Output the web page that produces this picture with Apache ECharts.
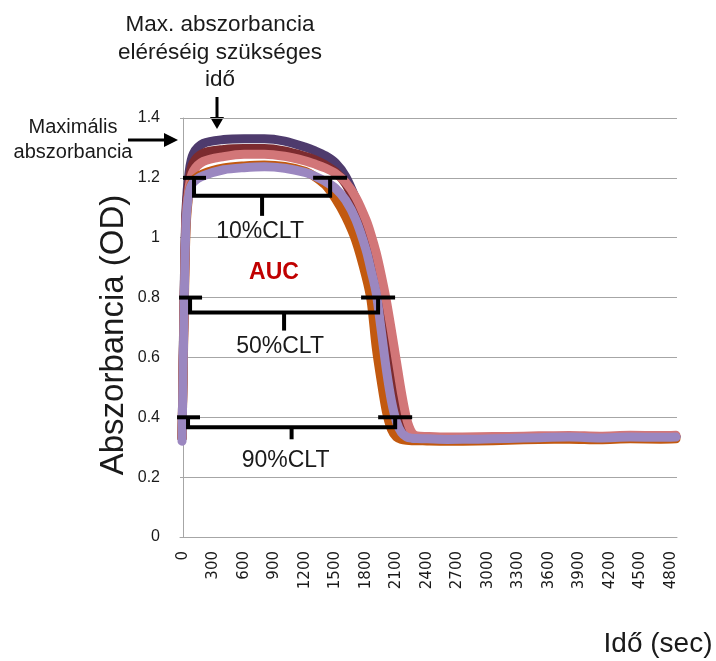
<!DOCTYPE html>
<html>
<head>
<meta charset="utf-8">
<script src="https://cdn.jsdelivr.net/npm/echarts@6/dist/echarts.min.js"></script>
<style>
  html, body { margin: 0; padding: 0; background: #ffffff; }
  #chart { width: 716px; height: 661px; }
</style>
</head>
<body>
<div id="chart"></div>
<script>
// Sampling times (sec) shared by every absorbance curve
const times = [-10, 10, 30, 60, 100, 200, 400, 600, 800, 1000, 1200, 1300, 1400, 1500, 1600,
  1700, 1800, 1850, 1900, 1950, 2000, 2050, 2100, 2150, 2200, 2250, 2300, 2400, 2600, 2900,
  3200, 3500, 3800, 4100, 4400, 4700, 4850];

// Absorbance (OD) of the five clot-lysis curves
const sampleDarkPurple = [0.33, 0.80, 1.10, 1.22, 1.28, 1.315, 1.328, 1.331, 1.331, 1.323, 1.303, 1.29, 1.274, 1.25, 1.205,
  1.13, 1.04, 0.985, 0.915, 0.83, 0.72, 0.59, 0.47, 0.39, 0.35, 0.335, 0.332, 0.331, 0.329, 0.330,
  0.331, 0.333, 0.334, 0.332, 0.335, 0.334, 0.335];
const sampleMaroon = [0.33, 0.78, 1.08, 1.19, 1.25, 1.283, 1.295, 1.298, 1.298, 1.29, 1.272, 1.26, 1.243, 1.22, 1.18,
  1.11, 1.03, 0.975, 0.905, 0.82, 0.72, 0.60, 0.48, 0.40, 0.355, 0.337, 0.333, 0.332, 0.330, 0.331,
  0.332, 0.334, 0.335, 0.333, 0.336, 0.335, 0.336];
const sampleSalmon = [0.33, 0.76, 1.06, 1.17, 1.222, 1.255, 1.271, 1.279, 1.279, 1.272, 1.257, 1.246, 1.233, 1.215, 1.185,
  1.135, 1.06, 1.01, 0.95, 0.875, 0.79, 0.69, 0.585, 0.48, 0.395, 0.35, 0.338, 0.336, 0.334, 0.335,
  0.336, 0.338, 0.339, 0.337, 0.340, 0.339, 0.340];
const sampleOrange = [0.33, 0.72, 1.03, 1.15, 1.19, 1.214, 1.233, 1.240, 1.243, 1.238, 1.222, 1.203, 1.176, 1.13, 1.07,
  0.99, 0.87, 0.79, 0.635, 0.52, 0.42, 0.36, 0.334, 0.326, 0.323, 0.322, 0.322, 0.321, 0.320, 0.321,
  0.323, 0.326, 0.327, 0.325, 0.328, 0.327, 0.328];
const sampleLavender = [0.32, 0.75, 1.05, 1.15, 1.185, 1.207, 1.227, 1.234, 1.237, 1.232, 1.218, 1.205, 1.188, 1.165, 1.125,
  1.06, 0.96, 0.89, 0.815, 0.69, 0.56, 0.455, 0.385, 0.348, 0.334, 0.330, 0.329, 0.328, 0.326, 0.327,
  0.329, 0.332, 0.334, 0.331, 0.334, 0.333, 0.334];

// Clot lysis time brackets: level (OD), start and end time (sec)
const cltLabels = ['10%CLT', '50%CLT', '90%CLT'];
const cltLevels = [1.2, 0.8, 0.4];
const cltStart = [108, 69, 49];
const cltEnd = [1447, 1919, 2087];

// Axis tick labels
const xTickValues = [0, 300, 600, 900, 1200, 1500, 1800, 2100, 2400, 2700, 3000, 3300, 3600, 3900, 4200, 4500, 4800];

const seriesDefs = [
  { name: 'sample A', values: sampleDarkPurple, color: '#4e3b6d' },
  { name: 'sample B', values: sampleMaroon, color: '#7c2b2f' },
  { name: 'sample C', values: sampleSalmon, color: '#d27678' },
  { name: 'sample D', values: sampleOrange, color: '#c2590f' },
  { name: 'sample E', values: sampleLavender, color: '#9b87c0' }
];

const TEXT = '#1a1a1a';
const FONT = '"Liberation Sans", Arial, sans-serif';

const lineSeries = seriesDefs.map(d => ({
  name: d.name,
  type: 'line',
  data: times.map((t, i) => [t, d.values[i]]),
  smooth: 0.3,
  symbol: 'none',
  lineStyle: { width: 9, color: d.color, cap: 'round', join: 'round' },
  z: 2
}));

// bracket drawing offsets in pixels (depth of the bracket, stem length, label placement)
const bracketLayout = [
  { depth: 18, stem: 20, labelDy: 54, labelDx: -2 },
  { depth: 15, stem: 18, labelDy: 49, labelDx: -4 },
  { depth: 10, stem: 12, labelDy: 43, labelDx: -6 }
];

const bracketSeries = {
  type: 'custom',
  z: 5,
  silent: true,
  encode: { x: [0, 1], y: 2 },
  data: cltLevels.map((lv, i) => [cltStart[i], cltEnd[i], lv]),
  renderItem: function (params, api) {
    const i = params.dataIndex;
    const lay = bracketLayout[i];
    const l = api.coord([api.value(0), api.value(2)]);
    const r = api.coord([api.value(1), api.value(2)]);
    const y = l[1];
    const mid = (l[0] + r[0]) / 2;
    const stroke = { stroke: '#000', lineWidth: 4, fill: null };
    return {
      type: 'group',
      children: [
        { type: 'line', shape: { x1: l[0] - 11, y1: y, x2: l[0] + 12, y2: y }, style: stroke },
        { type: 'line', shape: { x1: r[0] - 17, y1: y, x2: r[0] + 17, y2: y }, style: stroke },
        { type: 'polyline', shape: { points: [[l[0], y], [l[0], y + lay.depth], [r[0], y + lay.depth], [r[0], y]] }, style: stroke },
        { type: 'line', shape: { x1: mid, y1: y + lay.depth, x2: mid, y2: y + lay.depth + lay.stem }, style: stroke },
        { type: 'text', style: { text: cltLabels[i], x: mid + lay.labelDx, y: y + lay.labelDy,
          align: 'center', verticalAlign: 'middle', font: '23px ' + FONT, fill: TEXT } }
      ]
    };
  }
};

const chart = echarts.init(document.getElementById('chart'), null, { renderer: 'canvas' });

chart.setOption({
  animation: false,
  backgroundColor: '#ffffff',
  grid: { left: 180, right: 39, top: 118, bottom: 124, containLabel: false },
  xAxis: {
    type: 'value',
    min: -30,
    max: 4860,
    splitLine: { show: false },
    axisLine: { show: true, onZero: false, lineStyle: { color: '#a6a6a6', width: 1 } },
    axisTick: { show: false },
    axisLabel: {
      customValues: xTickValues,
      formatter: v => String(v),
      rotate: 90,
      margin: 14,
      fontFamily: '"DejaVu Sans", sans-serif',
      fontSize: 15,
      color: TEXT
    }
  },
  yAxis: {
    type: 'value',
    min: 0,
    max: 1.4,
    interval: 0.2,
    axisLine: { show: true, lineStyle: { color: '#a6a6a6', width: 1 } },
    axisTick: { show: false },
    splitLine: { show: true, lineStyle: { color: '#a6a6a6', width: 1 } },
    axisLabel: { margin: 20, fontFamily: FONT, fontSize: 16, color: TEXT }
  },
  series: lineSeries.concat([bracketSeries]),
  graphic: [
    { type: 'text', x: 220, y: 25, style: { text: 'Max. abszorbancia', align: 'center', verticalAlign: 'middle', font: '22.5px ' + FONT, fill: TEXT } },
    { type: 'text', x: 220, y: 53, style: { text: 'eléréséig szükséges', align: 'center', verticalAlign: 'middle', font: '22.5px ' + FONT, fill: TEXT } },
    { type: 'text', x: 220, y: 80, style: { text: 'idő', align: 'center', verticalAlign: 'middle', font: '22.5px ' + FONT, fill: TEXT } },
    { type: 'line', shape: { x1: 217, y1: 97, x2: 217, y2: 119 }, style: { stroke: '#000', lineWidth: 3 } },
    { type: 'polygon', shape: { points: [[210, 117], [224, 117], [217, 129]] }, style: { fill: '#000' } },

    { type: 'text', x: 73, y: 127, style: { text: 'Maximális', align: 'center', verticalAlign: 'middle', font: '20px ' + FONT, fill: TEXT } },
    { type: 'text', x: 73, y: 152, style: { text: 'abszorbancia', align: 'center', verticalAlign: 'middle', font: '20px ' + FONT, fill: TEXT } },
    { type: 'line', shape: { x1: 128, y1: 140, x2: 166, y2: 140 }, style: { stroke: '#000', lineWidth: 3 } },
    { type: 'polygon', shape: { points: [[164, 133], [164, 147], [178, 140]] }, style: { fill: '#000' } },

    { type: 'text', x: 274, y: 273, style: { text: 'AUC', align: 'center', verticalAlign: 'middle', font: 'bold 23px ' + FONT, fill: '#c00000' } },

    { type: 'text', x: 114, y: 335, rotation: Math.PI / 2, style: { text: 'Abszorbancia (OD)', align: 'center', verticalAlign: 'middle', font: '33px ' + FONT, fill: TEXT } },
    { type: 'text', x: 658, y: 644, style: { text: 'Idő (sec)', align: 'center', verticalAlign: 'middle', font: '28px ' + FONT, fill: TEXT } }
  ]
});
</script>
</body>
</html>
